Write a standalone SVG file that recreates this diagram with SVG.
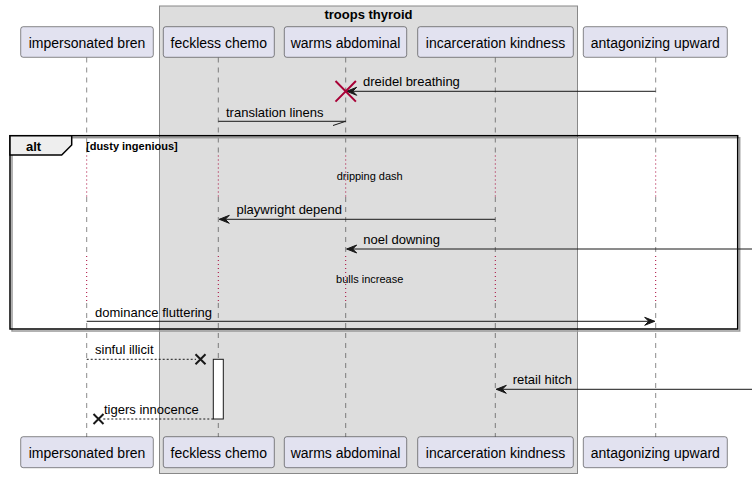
<svg xmlns="http://www.w3.org/2000/svg" width="752" height="478" viewBox="0 0 752 478">
<style>
text{font-family:"Liberation Sans",Arial,sans-serif;fill:#000}
.pt{font-size:14px}
.msg{font-size:13px}
.dl{font-size:11px}
.pbox{fill:#E2E2F0;stroke:#181818;stroke-width:0.5}
.life{stroke:#181818;stroke-width:0.5;stroke-dasharray:5,5;fill:none}
.dot{stroke:#A80036;stroke-width:1;stroke-dasharray:1,3;fill:none}
.ln{stroke:#181818;stroke-width:1;fill:none}
.dash{stroke:#181818;stroke-width:1;stroke-dasharray:2,2;fill:none}
.ah{fill:#181818;stroke:#181818;stroke-width:1}
</style>
<rect id="box-troops" x="159.5" y="6" width="418" height="467.5" fill="#DDDDDD" stroke="#888888" stroke-width="1"/>
<text x="368.5" y="18.5" font-size="13" font-weight="bold" text-anchor="middle">troops thyroid</text>

<g id="lifelines">
<g transform="translate(86.7,0)">
<path class="life" d="M0,57.5V155.5M0,197V256M0,303V437"/><path class="dot" d="M0,155.5V197M0,256V303"/></g>
<g transform="translate(218.3,0)">
<path class="life" d="M0,57.5V155.5M0,197V256M0,303V437"/><path class="dot" d="M0,155.5V197M0,256V303"/></g>
<g transform="translate(345.7,0)">
<path class="life" d="M0,57.5V155.5M0,197V256M0,303V437"/><path class="dot" d="M0,155.5V197M0,256V303"/></g>
<g transform="translate(495.3,0)">
<path class="life" d="M0,57.5V155.5M0,197V256M0,303V437"/><path class="dot" d="M0,155.5V197M0,256V303"/></g>
<g transform="translate(655.7,0)">
<path class="life" d="M0,57.5V155.5M0,197V256M0,303V437"/><path class="dot" d="M0,155.5V197M0,256V303"/></g>
</g>

<g id="alt-frame">
<rect x="12" y="137.7" width="727.7" height="193.3" fill="none" stroke="#999" stroke-width="1.5"/>
<rect x="10" y="135.7" width="727.7" height="193.3" fill="none" stroke="#000" stroke-width="1.5"/>
<path d="M10,135.7H71.7V145L61.7,155H10Z" fill="#EEEEEE" stroke="#000" stroke-width="1.5"/>
<text x="26" y="150.7" font-size="13" font-weight="bold">alt</text>
<text x="86" y="149.5" font-size="11" font-weight="bold">[dusty ingenious]</text>
<text class="dl" x="369.7" y="179.5" text-anchor="middle">dripping dash</text>
<text class="dl" x="369.7" y="282.7" text-anchor="middle">bulls increase</text>
</g>

<g id="activation">
<rect x="213.3" y="359.3" width="10" height="59.7" fill="#FFFFFF" stroke="#181818" stroke-width="1"/>
</g>

<g id="connectors">
<!-- dreidel breathing -->
<line class="ln" x1="655.7" y1="91.3" x2="346.7" y2="91.3"/>
<polygon class="ah" points="356.7,87.3 346.7,91.3 356.7,95.3 352.7,91.3"/>
<path d="M335.5,81L355.9,101.6M335.5,101.6L355.9,81" stroke="#A80036" stroke-width="2"/>
<text class="msg" x="363" y="86">dreidel breathing</text>
<!-- translation linens -->
<line class="ln" x1="218.3" y1="121.3" x2="345.7" y2="121.3"/>
<line class="ln" x1="333" y1="125.5" x2="345.7" y2="121.3"/>
<text class="msg" x="226" y="116.7">translation linens</text>
<!-- playwright depend -->
<line class="ln" x1="495.3" y1="219.3" x2="219.3" y2="219.3"/>
<polygon class="ah" points="229.3,215.3 219.3,219.3 229.3,223.3 225.3,219.3"/>
<text class="msg" x="236.5" y="213.5">playwright depend</text>
<!-- noel downing -->
<line class="ln" x1="752" y1="249" x2="346.7" y2="249"/>
<polygon class="ah" points="356.7,245 346.7,249 356.7,253 352.7,249"/>
<text class="msg" x="363.3" y="243.5">noel downing</text>
<!-- dominance fluttering -->
<line class="ln" x1="86.7" y1="321.3" x2="654.7" y2="321.3"/>
<polygon class="ah" points="644.7,317.3 654.7,321.3 644.7,325.3 648.7,321.3"/>
<text class="msg" x="95" y="316.7">dominance fluttering</text>
<!-- sinful illicit -->
<line class="dash" x1="86.7" y1="359.3" x2="196" y2="359.3"/>
<path d="M195.5,354.3L205.5,364.3M195.5,364.3L205.5,354.3" stroke="#181818" stroke-width="2"/>
<text class="msg" x="95" y="354">sinful illicit</text>
<!-- retail hitch -->
<line class="ln" x1="752" y1="389.3" x2="496.3" y2="389.3"/>
<polygon class="ah" points="506.3,385.3 496.3,389.3 506.3,393.3 502.3,389.3"/>
<text class="msg" x="512.7" y="384.3">retail hitch</text>
<!-- tigers innocence -->
<line class="dash" x1="213.3" y1="419" x2="103" y2="419"/>
<path d="M93.5,414L103.5,424M93.5,424L103.5,414" stroke="#181818" stroke-width="2"/>
<text class="msg" x="104" y="414.3">tigers innocence</text>
</g>

<g id="p-impersonated-bren">
<rect class="pbox" x="20.7" y="26.7" width="132.6" height="30.6" rx="2.5"/>
<text class="pt" x="87" y="48.3" text-anchor="middle">impersonated bren</text>
<rect class="pbox" x="20.7" y="436.7" width="132.6" height="31" rx="2.5"/>
<text class="pt" x="87" y="458.3" text-anchor="middle">impersonated bren</text>
</g>
<g id="p-feckless-chemo">
<rect class="pbox" x="163.3" y="26.7" width="111" height="30.6" rx="2.5"/>
<text class="pt" x="218.8" y="48.3" text-anchor="middle">feckless chemo</text>
<rect class="pbox" x="163.3" y="436.7" width="111" height="31" rx="2.5"/>
<text class="pt" x="218.8" y="458.3" text-anchor="middle">feckless chemo</text>
</g>
<g id="p-warms-abdominal">
<rect class="pbox" x="284.3" y="26.7" width="122.4" height="30.6" rx="2.5"/>
<text class="pt" x="345.5" y="48.3" text-anchor="middle">warms abdominal</text>
<rect class="pbox" x="284.3" y="436.7" width="122.4" height="31" rx="2.5"/>
<text class="pt" x="345.5" y="458.3" text-anchor="middle">warms abdominal</text>
</g>
<g id="p-incarceration-kindness">
<rect class="pbox" x="417.7" y="26.7" width="155.6" height="30.6" rx="2.5"/>
<text class="pt" x="495.5" y="48.3" text-anchor="middle">incarceration kindness</text>
<rect class="pbox" x="417.7" y="436.7" width="155.6" height="31" rx="2.5"/>
<text class="pt" x="495.5" y="458.3" text-anchor="middle">incarceration kindness</text>
</g>
<g id="p-antagonizing-upward">
<rect class="pbox" x="583.3" y="26.7" width="144" height="30.6" rx="2.5"/>
<text class="pt" x="655.3" y="48.3" text-anchor="middle">antagonizing upward</text>
<rect class="pbox" x="583.3" y="436.7" width="144" height="31" rx="2.5"/>
<text class="pt" x="655.3" y="458.3" text-anchor="middle">antagonizing upward</text>
</g>
</svg>
